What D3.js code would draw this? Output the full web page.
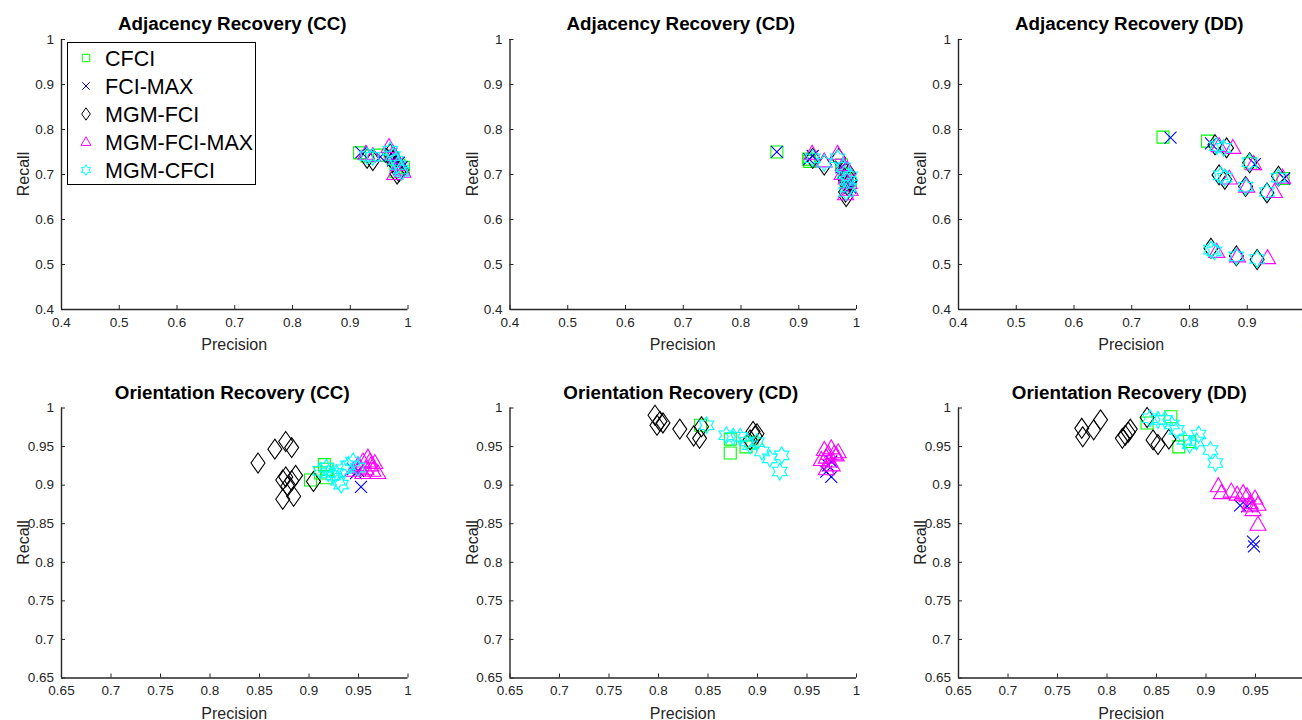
<!DOCTYPE html>
<html><head><meta charset="utf-8">
<script src="https://cdn.jsdelivr.net/npm/d3@7"></script>
<style>
body{margin:0;background:#fff;}
svg{display:block;font-family:"Liberation Sans",Arial,Helvetica,sans-serif;}
</style>
</head><body>
<svg id="chart" width="1302" height="720"></svg>
<script>
// ---------- data ----------
const methods = ["CFCI", "FCI-MAX", "MGM-FCI", "MGM-FCI-MAX", "MGM-CFCI"];
const colors = ["#00ff00", "#0000ff", "#000000", "#ff00ff", "#00ffff"];
const shapes = ["square", "cross", "diamond", "triangle", "hexagram"];

const titles = ["Adjacency Recovery (CC)", "Adjacency Recovery (CD)", "Adjacency Recovery (DD)",
                "Orientation Recovery (CC)", "Orientation Recovery (CD)", "Orientation Recovery (DD)"];

const adjTicks = [0.4, 0.5, 0.6, 0.7, 0.8, 0.9, 1];
const adjTickLabels = ["0.4", "0.5", "0.6", "0.7", "0.8", "0.9", "1"];
const oriTicks = [0.65, 0.7, 0.75, 0.8, 0.85, 0.9, 0.95, 1];
const oriTickLabels = ["0.65", "0.7", "0.75", "0.8", "0.85", "0.9", "0.95", "1"];

// each panel: one list of [precision, recall] points per method (same order as methods)
const adjCC = [
  [[0.917,0.747],[0.952,0.742],[0.975,0.735],[0.985,0.720],[0.993,0.715],[0.980,0.705],[0.970,0.740],[0.930,0.740]],
  [[0.920,0.748],[0.953,0.738],[0.972,0.745],[0.985,0.725],[0.990,0.715],[0.975,0.730]],
  [[0.930,0.735],[0.940,0.730],[0.970,0.745],[0.980,0.720],[0.982,0.700],[0.985,0.705],[0.975,0.730],[0.990,0.710]],
  [[0.928,0.745],[0.940,0.740],[0.968,0.760],[0.975,0.745],[0.980,0.735],[0.985,0.720],[0.990,0.710],[0.992,0.705],[0.978,0.700]],
  [[0.930,0.740],[0.940,0.738],[0.970,0.752],[0.975,0.740],[0.980,0.730],[0.983,0.720],[0.988,0.710],[0.990,0.705]]
];
const adjCD = [
  [[0.863,0.749],[0.918,0.733],[0.920,0.728],[0.975,0.720],[0.980,0.700],[0.985,0.690],[0.983,0.675],[0.990,0.680]],
  [[0.863,0.749],[0.919,0.733],[0.925,0.740],[0.975,0.715],[0.980,0.695],[0.985,0.680],[0.990,0.670]],
  [[0.925,0.735],[0.945,0.720],[0.970,0.735],[0.978,0.710],[0.980,0.690],[0.985,0.675],[0.982,0.660],[0.988,0.700],[0.990,0.685],[0.983,0.650]],
  [[0.924,0.745],[0.945,0.728],[0.968,0.745],[0.978,0.720],[0.976,0.700],[0.983,0.690],[0.988,0.680],[0.990,0.665],[0.982,0.655],[0.985,0.710]],
  [[0.925,0.735],[0.945,0.725],[0.968,0.735],[0.978,0.715],[0.980,0.700],[0.985,0.685],[0.988,0.670],[0.983,0.660],[0.990,0.695]]
];
const adjDD = [
  [[0.755,0.782],[0.832,0.773],[0.906,0.724],[0.963,0.690]],
  [[0.768,0.781],[0.838,0.768],[0.914,0.722],[0.965,0.690]],
  [[0.845,0.765],[0.865,0.758],[0.905,0.725],[0.852,0.698],[0.862,0.688],[0.898,0.672],[0.935,0.658],[0.955,0.695],[0.838,0.535],[0.882,0.518],[0.918,0.510]],
  [[0.852,0.762],[0.876,0.758],[0.912,0.722],[0.870,0.690],[0.900,0.672],[0.948,0.660],[0.962,0.692],[0.848,0.527],[0.884,0.517],[0.936,0.513]],
  [[0.848,0.762],[0.860,0.758],[0.905,0.726],[0.855,0.697],[0.862,0.692],[0.898,0.672],[0.935,0.660],[0.955,0.692],[0.838,0.532],[0.844,0.528],[0.882,0.517],[0.918,0.511]]
];
const oriCC = [
  [[0.902,0.906],[0.916,0.926],[0.919,0.920],[0.918,0.909],[0.912,0.915]],
  [[0.953,0.897],[0.948,0.915],[0.945,0.920],[0.950,0.918]],
  [[0.849,0.928],[0.866,0.946],[0.877,0.956],[0.883,0.948],[0.874,0.881],[0.885,0.885],[0.877,0.910],[0.887,0.912],[0.879,0.898],[0.883,0.905],[0.905,0.904],[0.874,0.906]],
  [[0.945,0.918],[0.950,0.925],[0.955,0.930],[0.960,0.935],[0.963,0.925],[0.958,0.920],[0.965,0.918],[0.970,0.915],[0.955,0.915],[0.962,0.930],[0.967,0.928],[0.952,0.922]],
  [[0.912,0.918],[0.920,0.915],[0.925,0.912],[0.930,0.905],[0.935,0.920],[0.940,0.925],[0.945,0.930],[0.933,0.900],[0.928,0.915],[0.918,0.922],[0.950,0.922]]
];
const oriCD = [
  [[0.843,0.977],[0.873,0.959],[0.873,0.941],[0.889,0.949],[0.895,0.955]],
  [[0.975,0.910],[0.970,0.917],[0.972,0.925],[0.975,0.930]],
  [[0.797,0.990],[0.802,0.982],[0.799,0.977],[0.805,0.980],[0.822,0.972],[0.836,0.963],[0.842,0.960],[0.844,0.975],[0.896,0.969],[0.898,0.963],[0.893,0.958],[0.900,0.966]],
  [[0.968,0.945],[0.972,0.940],[0.975,0.947],[0.970,0.935],[0.978,0.940],[0.980,0.938],[0.965,0.932],[0.973,0.930],[0.976,0.925],[0.982,0.942],[0.970,0.920]],
  [[0.849,0.977],[0.869,0.964],[0.883,0.962],[0.890,0.956],[0.893,0.951],[0.900,0.955],[0.905,0.943],[0.913,0.934],[0.925,0.938],[0.923,0.917],[0.876,0.962]]
];
const oriDD = [
  [[0.841,0.980],[0.865,0.988],[0.873,0.949],[0.884,0.956]],
  [[0.935,0.873],[0.942,0.872],[0.948,0.826],[0.949,0.820]],
  [[0.775,0.973],[0.776,0.962],[0.787,0.971],[0.794,0.984],[0.816,0.960],[0.819,0.964],[0.822,0.968],[0.824,0.972],[0.841,0.987],[0.847,0.958],[0.852,0.952],[0.863,0.959]],
  [[0.913,0.898],[0.916,0.889],[0.926,0.891],[0.932,0.887],[0.938,0.889],[0.942,0.885],[0.945,0.876],[0.948,0.867],[0.950,0.882],[0.953,0.874],[0.953,0.848],[0.945,0.872]],
  [[0.844,0.986],[0.852,0.984],[0.859,0.984],[0.866,0.978],[0.871,0.971],[0.879,0.958],[0.884,0.952],[0.893,0.965],[0.905,0.945],[0.910,0.928],[0.891,0.956]]
];
const panelData = [adjCC, adjCD, adjDD, oriCC, oriCD, oriDD];

// ---------- layout ----------
const svg = d3.select("#chart");
const colLeft = [61, 509.5, 958];
const plotW = 346.5;
const rowTop = [39, 407.5];
const plotH = 270;
const axisColor = "#262626";

function shapePath(kind, s) {
  if (kind === "square") { const h = 6*s; return `M${-h},${-h}H${h}V${h}H${-h}Z`; }
  if (kind === "cross") { const h = 6*s; return `M${-h},${-h}L${h},${h}M${h},${-h}L${-h},${h}`; }
  if (kind === "diamond") { const w = 7*s, h = 10*s; return `M0,${-h}L${w},0L0,${h}L${-w},0Z`; }
  if (kind === "triangle") { const w = 8*s; return `M0,${-8.5*s}L${w},${5.5*s}L${-w},${5.5*s}Z`; }
  if (kind === "hexagram") {
    const R = 8.5*s, r = R/Math.sqrt(3);
    const pts = d3.range(12).map(k => {
      const a = (-90 + k*30) * Math.PI/180, rr = k % 2 === 0 ? R : r;
      return [rr*Math.cos(a), rr*Math.sin(a)];
    });
    return "M" + pts.map(p => p[0].toFixed(2)+","+p[1].toFixed(2)).join("L") + "Z";
  }
}

panelData.forEach((data, i) => {
  const row = Math.floor(i / 3), col = i % 3;
  const isAdj = row === 0;
  const ticks = isAdj ? adjTicks : oriTicks;
  const tickLabels = isAdj ? adjTickLabels : oriTickLabels;
  const dom = [ticks[0], ticks[ticks.length-1]];
  const x0 = colLeft[col], y0 = rowTop[row];
  const x = d3.scaleLinear().domain(dom).range([x0, x0 + plotW]);
  const y = d3.scaleLinear().domain(dom).range([y0 + plotH, y0]);

  const g = svg.append("g");

  data.forEach((pts, m) => {
    g.append("g").selectAll("path").data(pts).join("path")
      .attr("d", shapePath(shapes[m], 1))
      .attr("transform", d => `translate(${x(d[0])},${y(d[1])})`)
      .attr("fill", "none")
      .attr("stroke", colors[m])
      .attr("stroke-width", 1.1);
  });

  const xAxis = d3.axisBottom(x).tickValues(ticks).tickSize(-4).tickPadding(8)
    .tickFormat((d, k) => tickLabels[k]);
  const yAxis = d3.axisLeft(y).tickValues(ticks).tickSize(-4).tickPadding(7)
    .tickFormat((d, k) => tickLabels[k]);
  const gx = g.append("g").attr("transform", `translate(0,${y0 + plotH})`).call(xAxis);
  const gy = g.append("g").attr("transform", `translate(${x0},0)`).call(yAxis);
  [gx, gy].forEach(a => {
    a.select(".domain").attr("stroke", axisColor).attr("stroke-width", 1.4)
      .attr("d", a === gx ? `M${x0},0.5H${x0+plotW}` : `M0.5,${y0+plotH}V${y0}`);
    a.selectAll(".tick line").attr("stroke", axisColor).attr("stroke-width", 1);
    a.selectAll(".tick text").attr("fill", axisColor).attr("font-size", 13.5)
      .attr("font-family", "Liberation Sans, Arial, sans-serif");
  });

  g.append("text").attr("x", x0 + plotW/2).attr("y", y0 + plotH + 41)
    .attr("text-anchor", "middle").attr("font-size", 16).attr("fill", axisColor).text("Precision");
  g.append("text").attr("transform", `translate(${x0 - 32},${y0 + plotH/2}) rotate(-90)`)
    .attr("text-anchor", "middle").attr("font-size", 16).attr("fill", axisColor).text("Recall");
  g.append("text").attr("x", x0 + plotW/2 - 2).attr("y", y0 - 9)
    .attr("text-anchor", "middle").attr("font-size", 18.8).attr("font-weight", "bold")
    .attr("fill", "#000").text(titles[i]);
});

// ---------- legend (in first panel) ----------
const leg = svg.append("g");
leg.append("rect").attr("x", 67.5).attr("y", 42.5).attr("width", 188).attr("height", 142)
  .attr("fill", "#fff").attr("stroke", "#000").attr("stroke-width", 1);
methods.forEach((name, m) => {
  const cy = 58 + m * 28;
  leg.append("path").attr("d", shapePath(shapes[m], 0.62))
    .attr("transform", `translate(86,${cy})`)
    .attr("fill", "none").attr("stroke", colors[m]).attr("stroke-width", 1);
  leg.append("text").attr("x", 105).attr("y", cy + 7.5).attr("font-size", 21.5)
    .attr("fill", "#000").text(name);
});
</script>
</body></html>
